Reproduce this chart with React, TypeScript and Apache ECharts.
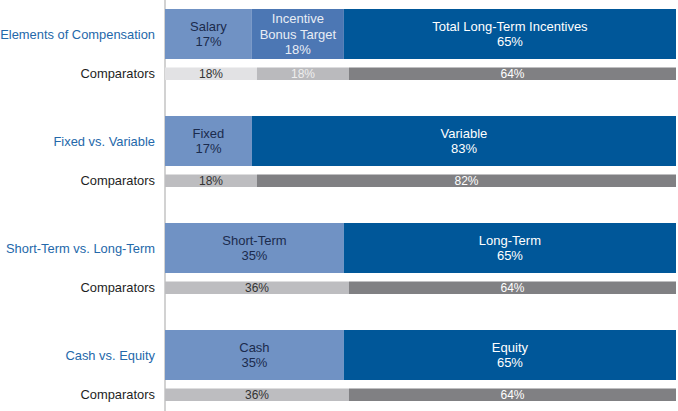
import React, { useEffect, useRef } from "react";
import * as echarts from "echarts";

const categories = [
  "Elements of Compensation",
  "Fixed vs. Variable",
  "Short-Term vs. Long-Term",
  "Cash vs. Equity",
];
const comparatorLabel = "Comparators";

const mainFirstNames = ["Salary", "Fixed", "Short-Term", "Cash"];
const mainFirstValues = [17, 17, 35, 35];
const mainMidNames = ["Incentive\nBonus Target", "", "", ""];
const mainMidValues = [18, null, null, null];
const mainLastNames = ["Total Long-Term Incentives", "Variable", "Long-Term", "Equity"];
const mainLastValues = [65, 83, 65, 65];

const compFirstValues = [18, 18, 36, 36];
const compMidValues = [18, null, null, null];
const compLastValues = [64, 82, 64, 64];

const FONT = 'Arial, "Liberation Sans", sans-serif';

export default function App() {
  const ref = useRef<HTMLDivElement>(null);

  useEffect(() => {
    if (!ref.current) return;
    const chart = echarts.init(ref.current, null, { renderer: "svg" });

    const mainLabel = (names: string[], color: string) => ({
      show: true,
      position: "inside",
      color,
      fontFamily: FONT,
      fontSize: 13,
      lineHeight: 15.5,
      formatter: (p: any) => `${names[p.dataIndex]}\n${p.value}%`,
    });
    const compLabel = (color: string) => ({
      show: true,
      position: "inside",
      color,
      fontFamily: FONT,
      fontSize: 12,
      formatter: (p: any) => `${p.value}%`,
    });

    const MAIN_W = 50;
    const COMP_W = 12.5;

    chart.setOption({
      animation: false,
      grid: {
        left: 165,
        right: 2,
        top: 0,
        bottom: 0,
        containLabel: false,
        outerBoundsMode: "none",
      },
      xAxis: { type: "value", min: 0, max: 100, show: false },
      yAxis: {
        type: "category",
        inverse: true,
        data: categories,
        axisTick: { show: false },
        axisLine: { show: true, lineStyle: { color: "#d2d2d2", width: 2 } },
        splitLine: { show: false },
        axisLabel: {
          margin: 10,
          fontFamily: FONT,
          formatter: (v: string) => `{a|${v}}\n{b|${comparatorLabel}}`,
          rich: {
            a: { color: "#2468aa", fontSize: 12.9, fontFamily: FONT, lineHeight: 58.5 },
            b: { color: "#1e1e1e", fontSize: 12.9, fontFamily: FONT, lineHeight: 21 },
          },
        },
      },
      series: [
        {
          type: "bar",
          stack: "main",
          barWidth: MAIN_W,
          barGap: "17%",
          data: mainFirstValues,
          itemStyle: { color: "#7092c4" },
          label: mainLabel(mainFirstNames, "#1b2b4d"),
        },
        {
          type: "bar",
          stack: "main",
          barWidth: MAIN_W,
          barGap: "17%",
          data: mainMidValues,
          itemStyle: { color: "#4c77b4" },
          label: mainLabel(mainMidNames, "#e8edf5"),
        },
        {
          type: "bar",
          stack: "main",
          barWidth: MAIN_W,
          barGap: "17%",
          data: mainLastValues,
          itemStyle: { color: "#005799" },
          label: mainLabel(mainLastNames, "#ffffff"),
        },
        {
          type: "bar",
          stack: "comp",
          barWidth: COMP_W,
          barGap: "17%",
          data: compFirstValues.map((v, i) => ({
            value: v,
            itemStyle: { color: i === 0 ? "#e2e2e4" : "#bdbdc0" },
          })),
          label: compLabel("#333333"),
        },
        {
          type: "bar",
          stack: "comp",
          barWidth: COMP_W,
          barGap: "17%",
          data: compMidValues,
          itemStyle: { color: "#bababd" },
          label: compLabel("#eeeeee"),
        },
        {
          type: "bar",
          stack: "comp",
          barWidth: COMP_W,
          barGap: "17%",
          data: compLastValues,
          itemStyle: { color: "#808083" },
          label: compLabel("#ffffff"),
        },
      ],
    });

    return () => chart.dispose();
  }, []);

  return (
    <div
      ref={ref}
      style={{ position: "fixed", left: 0, top: -9, width: 678, height: 428, background: "#ffffff" }}
    />
  );
}
